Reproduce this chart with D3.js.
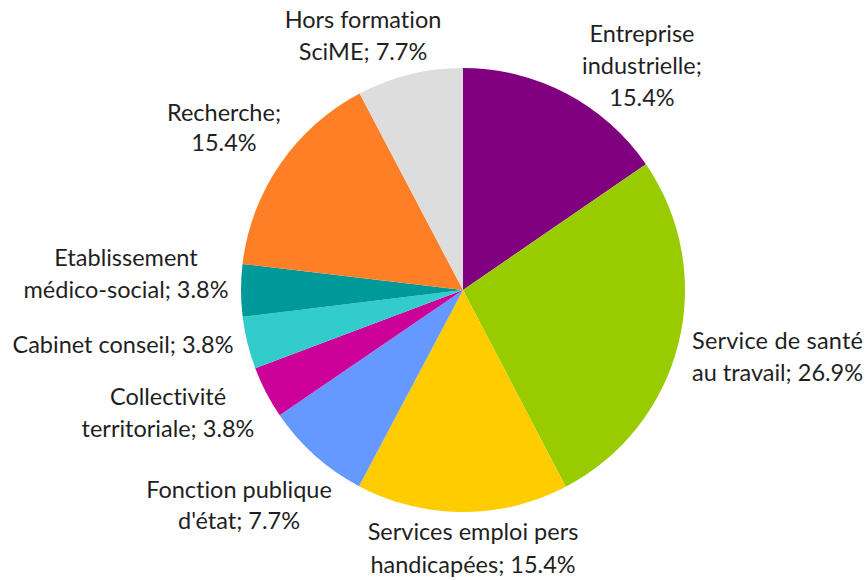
<!DOCTYPE html>
<html>
<head>
<meta charset="utf-8">
<script src="https://cdn.jsdelivr.net/npm/d3@7"></script>
<style>
  html, body { margin: 0; padding: 0; background: #fff; }
  svg { display: block; }
  .label { font-family: Lato, "Open Sans", sans-serif; font-size: 23.5px; fill: #1f1f1f;
           font-variant-ligatures: none; }
</style>
</head>
<body>
<div id="chart"></div>
<script>
// categories, in clockwise order from 12 o'clock
var categories = [
  "Entreprise industrielle",
  "Service de santé au travail",
  "Services emploi pers handicapées",
  "Fonction publique d'état",
  "Collectivité territoriale",
  "Cabinet conseil",
  "Etablissement médico-social",
  "Recherche",
  "Hors formation SciME"
];
// share of each category (%)
var values = [15.4, 26.9, 15.4, 7.7, 3.8, 3.8, 3.8, 15.4, 7.7];
// how each data label is broken into lines
var labelLines = [
  ["Entreprise", "industrielle;", "15.4%"],
  ["Service de santé", "au travail; 26.9%"],
  ["Services emploi pers", "handicapées; 15.4%"],
  ["Fonction publique", "d'état; 7.7%"],
  ["Collectivité", "territoriale; 3.8%"],
  ["Cabinet conseil; 3.8%"],
  ["Etablissement", "médico-social; 3.8%"],
  ["Recherche;", "15.4%"],
  ["Hors formation", "SciME; 7.7%"]
];

var colors = ["#800080", "#99cc00", "#ffcc00", "#6699ff", "#cc0099",
              "#33cccc", "#009999", "#ff7f27", "#dddddd"];

// where each label block sits (x, anchor, first baseline, line gap)
var labelLayout = [
  { x: 642, anchor: "middle", y: 42, gap: 32 },
  { x: 692, anchor: "start", y: 349, gap: 32, fit: 171 },
  { x: 473, anchor: "middle", y: 540, gap: 33 },
  { x: 239, anchor: "middle", y: 498, gap: 31 },
  { x: 168, anchor: "middle", y: 405, gap: 32 },
  { x: 123, anchor: "middle", y: 353, gap: 32 },
  { x: 126, anchor: "middle", y: 266, gap: 32 },
  { x: 224, anchor: "middle", y: 121, gap: 30 },
  { x: 363, anchor: "middle", y: 28, gap: 32 }
];

var width = 867, height = 580;
var cx = 463, cy = 290, radius = 222;

var svg = d3.select("#chart").append("svg")
    .attr("width", width)
    .attr("height", height);

var data = categories.map(function (c, i) { return { name: c, value: values[i], idx: i }; });

var pie = d3.pie()
    .sort(null)
    .value(function (d) { return d.value; });

var arc = d3.arc()
    .innerRadius(0)
    .outerRadius(radius);

var color = d3.scaleOrdinal().domain(categories).range(colors);

// slices
svg.append("g")
    .attr("class", "slices")
    .attr("transform", "translate(" + cx + "," + cy + ")")
  .selectAll("path")
  .data(pie(data))
  .enter().append("path")
    .attr("d", arc)
    .attr("fill", function (d) { return color(d.data.name); });

// data labels
var labels = svg.append("g").attr("class", "labels")
  .selectAll("text")
  .data(data)
  .enter().append("text")
    .attr("class", "label")
    .attr("text-anchor", function (d) { return labelLayout[d.idx].anchor; });

labels.each(function (d) {
  var lay = labelLayout[d.idx];
  var t = d3.select(this);
  labelLines[d.idx].forEach(function (line, j) {
    var ts = t.append("tspan")
        .attr("x", lay.x)
        .attr("y", lay.y + j * lay.gap)
        .text(line);
    if (lay.fit) {
      ts.attr("textLength", lay.fit).attr("lengthAdjust", "spacing");
    }
  });
});
</script>
</body>
</html>
